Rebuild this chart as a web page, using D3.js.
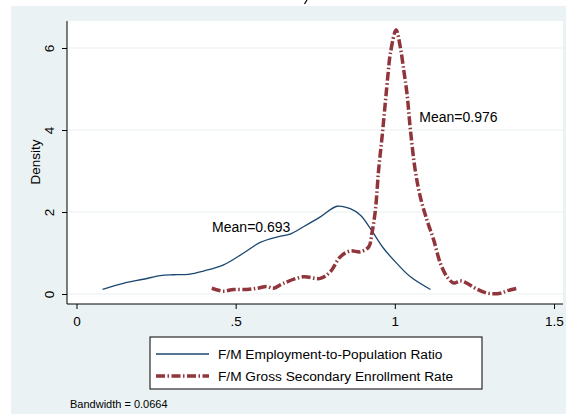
<!DOCTYPE html>
<html>
<head>
<meta charset="utf-8">
<script src="https://cdn.jsdelivr.net/npm/d3@7"></script>
<style>
  body { margin: 0; background: #fff; }
  text { font-family: "Liberation Sans", Arial, sans-serif; fill: #000; }
</style>
</head>
<body>
<script>
// kernel density estimates
const empX = [0.082, 0.147, 0.21, 0.263, 0.304, 0.352, 0.399, 0.462, 0.525, 0.577, 0.635, 0.671, 0.713, 0.766, 0.818, 0.86, 0.892, 0.923, 0.965, 1.007, 1.049, 1.112];
const empY = [0.115, 0.26, 0.36, 0.45, 0.47, 0.48, 0.56, 0.71, 1.0, 1.26, 1.40, 1.46, 1.64, 1.88, 2.14, 2.08, 1.92, 1.60, 1.11, 0.74, 0.42, 0.11];

const enrX = [0.425, 0.462, 0.493, 0.535, 0.567, 0.598, 0.619, 0.65, 0.713, 0.766, 0.797, 0.829, 0.86, 0.892, 0.918, 0.928, 0.939, 0.949, 0.960, 0.970, 0.979, 0.986, 1.004, 1.017, 1.028, 1.038, 1.049, 1.064, 1.08, 1.101, 1.122, 1.143, 1.164, 1.185, 1.206, 1.227, 1.253, 1.29, 1.332, 1.353, 1.384];
const enrY = [0.14, 0.07, 0.11, 0.11, 0.14, 0.18, 0.14, 0.26, 0.42, 0.38, 0.54, 0.91, 1.05, 1.03, 1.15, 1.48, 2.05, 3.02, 3.84, 4.66, 5.39, 5.87, 6.44, 6.03, 5.46, 4.9, 4.0, 3.02, 2.37, 1.80, 1.32, 0.75, 0.42, 0.27, 0.32, 0.26, 0.14, 0.02, 0.02, 0.08, 0.14];

const xTicks = [0, 0.5, 1, 1.5];
const xTickLabels = ["0", ".5", "1", "1.5"];
const yTicks = [0, 2, 4, 6];
const yTickLabels = ["0", "2", "4", "6"];

const seriesNames = ["F/M Employment-to-Population Ratio", "F/M Gross Secondary Enrollment Rate"];
const meanLabels = ["Mean=0.693", "Mean=0.976"];
const meanPosX = [0.426, 1.077];
const meanPosY = [1.63, 4.32];

const w = 566, h = 414;
const navy = "#1a476f", maroon = "#90353b", bg = "#eaf2f3";

const svg = d3.select("body").append("svg")
    .attr("width", w)
    .attr("height", h);

// outer graph region
svg.append("rect").attr("x", 11).attr("y", 6).attr("width", w - 11).attr("height", h - 6).attr("fill", bg);

// tail of a clipped title glyph at the very top
svg.append("path").attr("d", "M307,0 L304.5,4").attr("stroke", "#000").attr("stroke-width", 1.2);

// plot region
const plot = { left: 67, right: 563, top: 21, bottom: 304 };
svg.append("rect")
    .attr("x", plot.left).attr("y", plot.top)
    .attr("width", plot.right - plot.left).attr("height", plot.bottom - plot.top)
    .attr("fill", "#fff");

const xScale = d3.scaleLinear().domain([0, 1.5]).range([76.5, 554]);
const yScale = d3.scaleLinear().domain([0, 6]).range([294, 48]);

// grid lines
svg.append("g").selectAll("line")
    .data(yTicks)
    .enter()
    .append("line")
    .attr("x1", plot.left).attr("x2", plot.right)
    .attr("y1", d => yScale(d)).attr("y2", d => yScale(d))
    .attr("stroke", bg).attr("stroke-width", 1.2);

// x axis
const xAxis = d3.axisBottom(xScale).tickValues(xTicks)
    .tickFormat((d, i) => xTickLabels[i]).tickSize(5).tickSizeOuter(0);
const gx = svg.append("g").attr("transform", "translate(0," + plot.bottom + ")").call(xAxis);
gx.select(".domain").remove();
gx.append("line").attr("x1", plot.left).attr("x2", plot.right).attr("stroke", "#000");
gx.selectAll("text").attr("font-size", 13.5).attr("dy", "1.05em")
    .attr("font-family", "Liberation Sans, Arial, sans-serif").attr("fill", "#000");

// y axis
const yAxis = d3.axisLeft(yScale).tickValues(yTicks)
    .tickFormat((d, i) => yTickLabels[i]).tickSize(5).tickSizeOuter(0);
const gy = svg.append("g").attr("transform", "translate(" + plot.left + ",0)").call(yAxis);
gy.select(".domain").remove();
gy.append("line").attr("y1", plot.top).attr("y2", plot.bottom).attr("stroke", "#000");
gy.selectAll(".tick text")
    .attr("font-size", 13.5)
    .attr("font-family", "Liberation Sans, Arial, sans-serif").attr("fill", "#000")
    .attr("x", 0).attr("y", 0).attr("dy", null)
    .attr("text-anchor", "middle")
    .attr("transform", "translate(-13.5,0) rotate(-90)");

svg.append("text")
    .attr("transform", "translate(40,162) rotate(-90)")
    .attr("text-anchor", "middle")
    .attr("font-size", 13.5)
    .text("Density");

// curves
const line = d3.line()
    .x(d => xScale(d[0]))
    .y(d => yScale(d[1]))
    .curve(d3.curveCatmullRom);

svg.append("path")
    .datum(empX.map((x, i) => [x, empY[i]]))
    .attr("d", line)
    .attr("fill", "none")
    .attr("stroke", navy)
    .attr("stroke-width", 1.3);

svg.append("path")
    .datum(enrX.map((x, i) => [x, enrY[i]]))
    .attr("d", line)
    .attr("fill", "none")
    .attr("stroke", maroon)
    .attr("stroke-width", 3.5)
    .attr("stroke-dasharray", "9,2.5,1.5,2.5");

// mean annotations
svg.selectAll(".mean")
    .data(meanLabels)
    .enter()
    .append("text")
    .attr("class", "mean")
    .attr("x", (d, i) => xScale(meanPosX[i]))
    .attr("y", (d, i) => yScale(meanPosY[i]))
    .attr("dy", "0.35em")
    .attr("font-size", 14)
    .text(d => d);

// legend
const lg = svg.append("g");
lg.append("rect").attr("x", 150).attr("y", 337).attr("width", 332).attr("height", 52)
    .attr("fill", "#fff").attr("stroke", "#000").attr("stroke-width", 1);
const legendY = [354, 376];
lg.append("line").attr("x1", 156).attr("x2", 209).attr("y1", legendY[0]).attr("y2", legendY[0])
    .attr("stroke", navy).attr("stroke-width", 1.3);
lg.append("line").attr("x1", 156).attr("x2", 209).attr("y1", legendY[1]).attr("y2", legendY[1])
    .attr("stroke", maroon).attr("stroke-width", 3.5).attr("stroke-dasharray", "9,2.5,1.5,2.5");
lg.selectAll(".lt")
    .data(seriesNames)
    .enter()
    .append("text")
    .attr("class", "lt")
    .attr("x", 218)
    .attr("y", (d, i) => legendY[i])
    .attr("dy", "0.35em")
    .attr("font-size", 13.7)
    .text(d => d);

svg.append("text")
    .attr("x", 70).attr("y", 404).attr("dy", "0.35em")
    .attr("font-size", 11)
    .text("Bandwidth = 0.0664");
</script>
</body>
</html>
